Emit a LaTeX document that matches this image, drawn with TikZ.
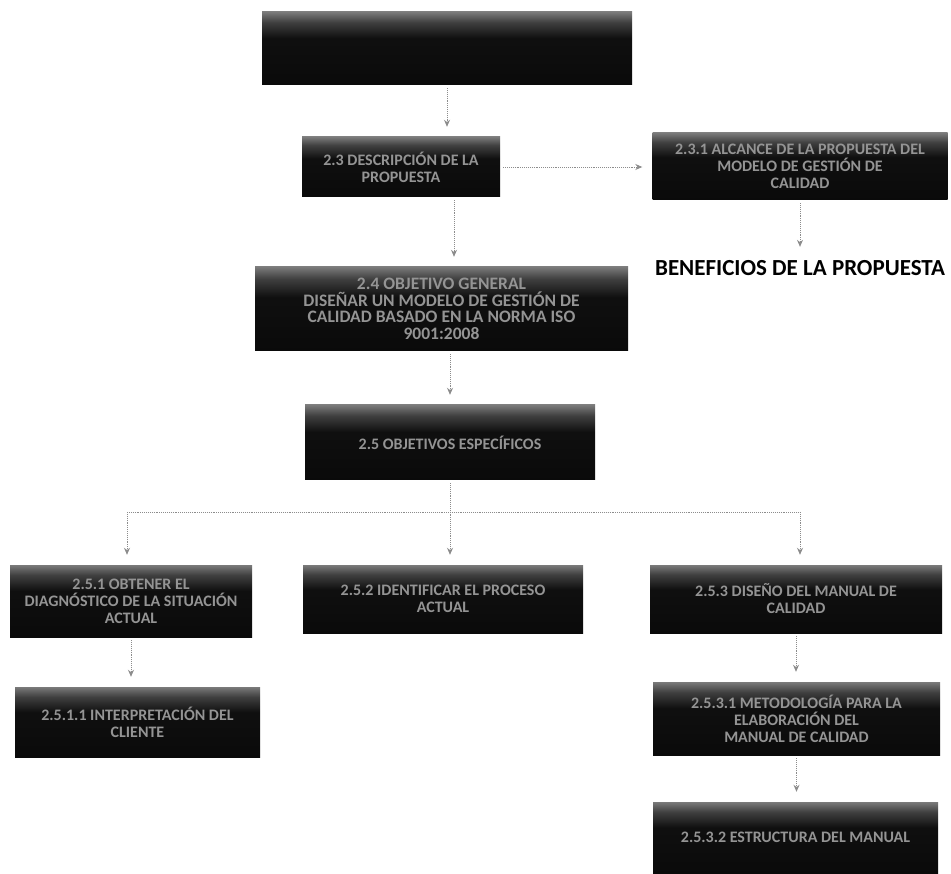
\documentclass[tikz,border=0pt]{standalone}
\usepackage{fontspec}
\setmainfont{Carlito}
\usetikzlibrary{arrows.meta}
\pgfdeclareverticalshading{boxshade}{100bp}{color(0bp)=(black!96); color(25bp)=(black!96); color(57bp)=(black!94); color(68bp)=(black!75); color(75bp)=(black!52); color(100bp)=(black!52)}
\begin{document}
\begin{tikzpicture}[x=1pt,y=-1pt,
  box/.style={rectangle, inner sep=2pt, shading=boxshade,
    text=white!58!black, font=\bfseries\fontsize{16}{17}\selectfont, align=center},
  conn/.style={draw=black!45, densely dotted, line width=0.9pt, shorten <=3pt, shorten >=10pt,
    -{Stealth[length=7pt,width=6pt]}},
  bus/.style={draw=black!45, densely dotted, line width=0.9pt},
  lbl/.style={font=\bfseries\fontsize{23}{26}\selectfont, text=black}]
\useasboundingbox (0,0) rectangle (951,874);
% boxes
\node[box, minimum width=370pt, minimum height=73pt] (top) at (447,48.5) {};
\node[box, minimum width=198pt, minimum height=60pt] (b23) at (401,167) {2.3 DESCRIPCIÓN DE LA\\PROPUESTA};
\node[box, minimum width=295pt, minimum height=67pt] (b231) at (800,166.5) {2.3.1 ALCANCE DE LA PROPUESTA DEL\\MODELO DE GESTIÓN DE\\CALIDAD};
\node[lbl] (ben) at (800,268) {BENEFICIOS DE LA PROPUESTA};
\node[box, minimum width=373pt, minimum height=84pt, font=\bfseries\fontsize{17.5}{16.5}\selectfont] (b24) at (441.5,309) {2.4 OBJETIVO GENERAL\\DISEÑAR UN MODELO DE GESTIÓN DE\\CALIDAD BASADO EN LA NORMA ISO\\9001:2008};
\node[box, minimum width=290pt, minimum height=75pt] (b25) at (450,442.5) {2.5 OBJETIVOS ESPECÍFICOS};
\node[box, minimum width=242pt, minimum height=72pt] (b251) at (131,601) {2.5.1 OBTENER EL\\DIAGNÓSTICO DE LA SITUACIÓN\\ACTUAL};
\node[box, minimum width=280pt, minimum height=68pt] (b252) at (443,599) {2.5.2 IDENTIFICAR EL PROCESO\\ACTUAL};
\node[box, minimum width=292pt, minimum height=68pt] (b253) at (796,599) {2.5.3 DISEÑO DEL MANUAL DE\\CALIDAD};
\node[box, minimum width=245pt, minimum height=70pt] (b2511) at (137.5,722) {2.5.1.1 INTERPRETACIÓN DEL\\CLIENTE};
\node[box, minimum width=287pt, minimum height=73pt] (b2531) at (796.5,718.5) {2.5.3.1 METODOLOGÍA PARA LA\\ELABORACIÓN DEL\\MANUAL DE CALIDAD};
\node[box, minimum width=285pt, minimum height=71pt] (b2532) at (795.5,837.5) {2.5.3.2 ESTRUCTURA DEL MANUAL};
% bus coordinates
\coordinate (busL) at (127,512);
\coordinate (busR) at (800,512);
% connectors
\draw[conn] (top.south) -- (top.south |- b23.north);
\draw[conn] (b23.east) -- (b23.east -| b231.west);
\draw[conn] (b231.south) -- (ben.north);
\draw[conn] ([xshift=53pt]b23.south) -- ([xshift=53pt]b23.south |- b24.north);
\draw[conn] (b24.south -| b25.north) -- (b25.north);
\draw[bus] (busL) -- (busR);
\draw[conn] (b25.south) -- (b25.south |- b252.north);
\draw[conn, shorten <=0pt] (busL) -- (busL |- b251.north);
\draw[conn, shorten <=0pt] (busR) -- (busR |- b253.north);
\draw[conn] (b251.south) -- (b251.south |- b2511.north);
\draw[conn] (b253.south) -- (b253.south |- b2531.north);
\draw[conn] (b2531.south) -- (b2531.south |- b2532.north);
\end{tikzpicture}
\end{document}
